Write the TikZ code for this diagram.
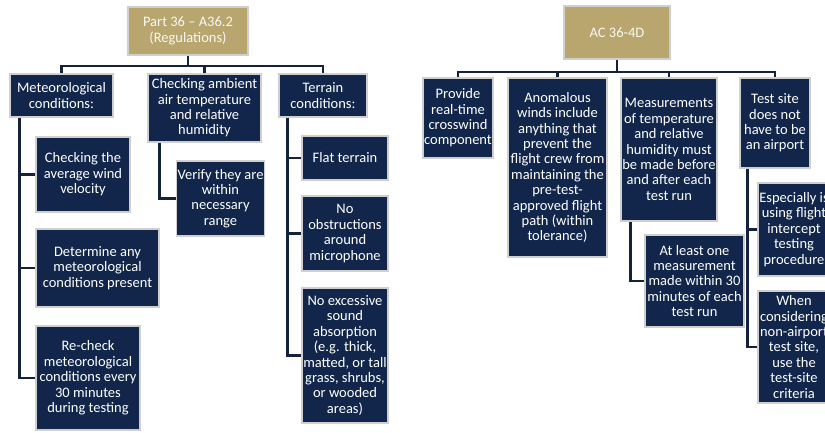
\documentclass[tikz,border=0pt]{standalone}
\usepackage{fontspec}
\setmainfont{Carlito}
\usepackage{tikz}
\definecolor{regnavy}{HTML}{11264A}
\definecolor{reggold}{HTML}{B8A66E}
\definecolor{regedge}{HTML}{CFCFCF}
\definecolor{regline}{HTML}{14223A}
\tikzset{
  itembox/.style={
    rectangle,
    draw=regedge,
    fill=regnavy,
    line width=1.5pt,
    text=white,
    align=center,
    inner sep=1pt,
    font=\fontsize{14.5}{15.4}\selectfont
  },
  headbox/.style={itembox, fill=reggold, text=white!92!reggold},
  treeline/.style={draw=regline, line width=2.5pt}
}

\begin{document}
\begin{tikzpicture}[x=1pt,y=-1pt]
\path[use as bounding box] (0,0) rectangle (825,432);
\clip (0,0) rectangle (825,432);

% Part 36 tree
\node[headbox, minimum width=120pt, minimum height=48pt] (reg) at (188,31) {Part 36 – A36.2\\(Regulations)};
\node[itembox, minimum width=103pt, minimum height=43pt] (met) at (61.5,95.5) {Meteorological\\conditions:};
\node[itembox, minimum width=113pt, minimum height=68pt] (amb) at (204.5,108) {Checking ambient\\air temperature\\and relative\\humidity};
\node[itembox, minimum width=88pt, minimum height=43pt] (ter) at (323,95.5) {Terrain\\conditions:};
\node[itembox, minimum width=94pt, minimum height=75pt] (wind) at (83,174.5) {Checking the\\average wind\\velocity};
\node[itembox, minimum width=123pt, minimum height=78pt] (det) at (97.5,268) {Determine any\\meteorological\\conditions present};
\node[itembox, minimum width=104pt, minimum height=104pt] (rechk) at (88,378) {Re-check\\meteorological\\conditions every\\30 minutes\\during testing};
\node[itembox, minimum width=87pt, minimum height=75pt] (verify) at (220.5,198.5) {Verify they are\\within\\necessary\\range};
\node[itembox, minimum width=86pt, minimum height=44pt] (flat) at (345,158) {Flat terrain};
\node[itembox, minimum width=86pt, minimum height=75pt] (obst) at (345,233.5) {No\\obstructions\\around\\microphone};
\node[itembox, minimum width=86pt, minimum height=135pt] (absorb) at (345,355.5) {No excessive\\sound\\absorption\\(e.g. thick,\\matted, or tall\\grass, shrubs,\\or wooded\\areas)};

\draw[treeline] (reg.south) -- ++(0,10) coordinate (regbus);
\draw[treeline] (regbus) -| (met.north);
\draw[treeline] (regbus) -| (amb.north);
\draw[treeline] (regbus) -| (ter.north);
\draw[treeline] ([xshift=10pt]met.south west) |- (wind.west);
\draw[treeline] ([xshift=10pt]met.south west) |- (det.west);
\draw[treeline] ([xshift=10pt]met.south west) |- (rechk.west);
\draw[treeline] ([xshift=12pt]amb.south west) |- (verify.west);
\draw[treeline] ([xshift=9pt]ter.south west) |- (flat.west);
\draw[treeline] ([xshift=9pt]ter.south west) |- (obst.west);
\draw[treeline] ([xshift=9pt]ter.south west) |- (absorb.west);

% AC 36-4D tree
\node[headbox, minimum width=106pt, minimum height=53pt] (ac) at (617,32.5) {AC 36-4D};
\node[itembox, minimum width=70pt, minimum height=80pt] (prov) at (458,118) {Provide\\real-time\\crosswind\\component};
\node[itembox, minimum width=99pt, minimum height=179pt] (anom) at (557.5,167.5) {Anomalous\\winds include\\anything that\\prevent the\\flight crew from\\maintaining the\\pre-test-\\approved flight\\path (within\\tolerance)};
\node[itembox, minimum width=96pt, minimum height=143pt] (meas) at (669,149.5) {Measurements\\of temperature\\and relative\\humidity must\\be made before\\and after each\\test run};
\node[itembox, minimum width=70pt, minimum height=90pt] (site) at (775,123) {Test site\\does not\\have to be\\an airport};
\node[itembox, minimum width=99pt, minimum height=92pt] (least) at (694.5,281) {At least one\\measurement\\made within 30\\minutes of each\\test run};
\node[itembox, minimum width=72pt, minimum height=93pt] (esp) at (794,229.5) {Especially is\\using flight\\intercept\\testing\\procedure};
\node[itembox, minimum width=72pt, minimum height=112pt] (when) at (794,347) {When\\considering\\non-airport\\test site,\\use the\\test-site\\criteria};

\draw[treeline] (ac.south) -- ++(0,12) coordinate (acbus);
\draw[treeline] (acbus) -| (prov.north);
\draw[treeline] (acbus) -| (anom.north);
\draw[treeline] (acbus) -| (meas.north);
\draw[treeline] (acbus) -| (site.north);
\draw[treeline] ([xshift=10pt]meas.south west) |- (least.west);
\draw[treeline] ([xshift=8pt]site.south west) |- (esp.west);
\draw[treeline] ([xshift=8pt]site.south west) |- (when.west);
\end{tikzpicture}
\end{document}
